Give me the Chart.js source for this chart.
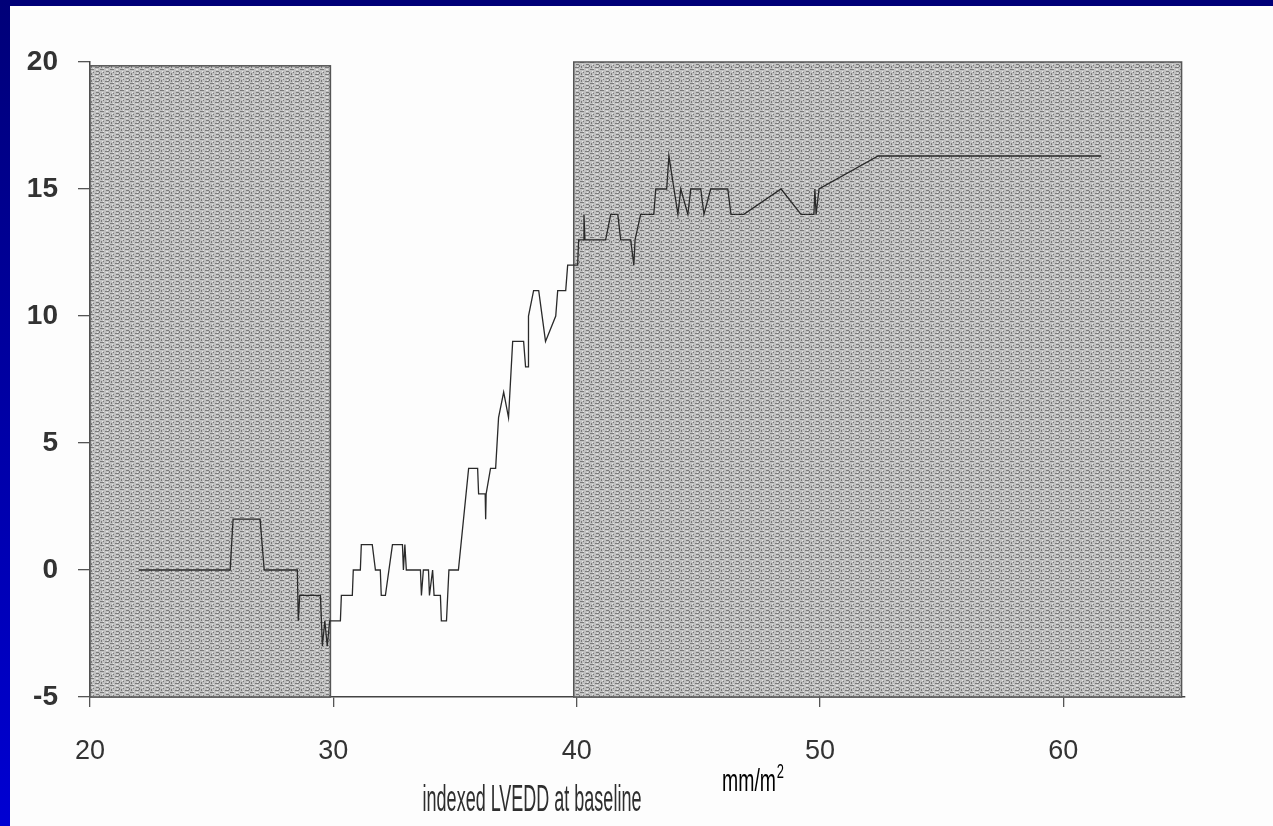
<!DOCTYPE html>
<html>
<head>
<meta charset="utf-8">
<script src="https://cdn.jsdelivr.net/npm/chart.js@4"></script>
<style>
  html, body { margin: 0; padding: 0; }
  body { width: 1273px; height: 826px; overflow: hidden; background: #fdfdfd; position: relative; }
  #topbar { position: absolute; left: 0; top: 0; width: 1273px; height: 6px; background: #000078; }
  #leftbar { position: absolute; left: 0; top: 0; width: 10px; height: 826px; background: linear-gradient(#000078, #0000d2); }
  #wrap { position: absolute; left: 10px; top: 6px; width: 1263px; height: 820px; }
</style>
</head>
<body>
<div id="topbar"></div>
<div id="leftbar"></div>
<div id="wrap"><canvas id="lveddChart" width="1263" height="820"></canvas></div>
<script>
// tick labels
const xTicks = [20, 30, 40, 50, 60];
const yTicks = [-5, 0, 5, 10, 15, 20];

// shaded zones (x from, x to, top)
const zoneStart = [20, 39.88];
const zoneEnd = [29.88, 64.86];
const zoneTop = [19.85, 20];

// the curve: indexed LVEDD (mm/m2) vs change
const lvedd = [
  22.0, 25.76, 25.88, 26.99, 27.16, 28.52, 28.56, 28.62, 29.47, 29.55,
  29.65, 29.75, 29.85, 30.29, 30.33, 30.78, 30.82, 31.11, 31.15, 31.60,
  31.73, 31.93, 31.97, 32.14, 32.43, 32.84, 32.88, 32.94, 33.00, 33.58,
  33.62, 33.70, 33.91, 33.95, 34.08, 34.14, 34.40, 34.44, 34.65, 34.75,
  35.14, 35.56, 35.93, 35.97, 36.24, 36.26, 36.28, 36.46, 36.67, 36.79,
  37.00, 37.20, 37.37, 37.82, 37.90, 38.00, 38.02, 38.23, 38.44, 38.72,
  39.14, 39.22, 39.55, 39.63, 40.04, 40.08, 40.28, 40.30, 40.34, 41.19,
  41.40, 41.69, 41.81, 42.22, 42.35, 42.40, 42.63, 43.17, 43.25, 43.70,
  43.79, 44.16, 44.28, 44.57, 44.69, 45.10, 45.23, 45.51, 46.21, 46.34,
  46.87, 48.40, 49.22, 49.75, 49.79, 49.84, 49.96, 52.39, 61.56
];
const change = [
  0, 0, 2, 2, 0, 0, -2, -1, -1, -3,
  -2, -3, -2, -2, -1, -1, 0, 0, 1, 1,
  0, 0, -1, -1, 1, 1, 0, 1, 0, 0,
  -1, 0, 0, -1, 0, -1, -1, -2, -2, 0,
  0, 4, 4, 3, 3, 2, 3, 4, 4, 6,
  7, 6, 9, 9, 8, 8, 10, 11, 11, 9,
  10, 11, 11, 12, 12, 13, 13, 14, 13, 13,
  14, 14, 13, 13, 12, 13, 14, 14, 15, 15,
  16.3, 14, 15, 14, 15, 15, 14, 15, 15, 14,
  14, 15, 14, 14, 15, 14, 15, 16.3, 16.3
];

// stippled grey fill like the scanned original
function makePattern(ctx) {
  const tile = document.createElement('canvas');
  tile.width = 10;
  tile.height = 7;
  const t = tile.getContext('2d');
  t.fillStyle = '#c0c0c0';
  t.fillRect(0, 0, 10, 7);
  t.fillStyle = '#7a7a7a';
  t.fillRect(0, 0, 4, 1);
  t.fillRect(6, 2, 3, 1);
  t.fillRect(1, 4, 1, 2);
  t.fillRect(5, 5, 4, 1);
  t.fillRect(9, 3, 1, 2);
  t.fillRect(3, 3, 1, 1);
  t.fillStyle = '#e6e6e6';
  t.fillRect(2, 2, 1, 1);
  t.fillRect(6, 0, 2, 1);
  t.fillRect(3, 6, 1, 1);
  t.fillRect(7, 4, 1, 1);
  return ctx.createPattern(tile, 'repeat');
}

const shadePlugin = {
  id: 'shade',
  beforeDatasetsDraw(chart) {
    const { ctx, scales: { x, y } } = chart;
    const pattern = makePattern(ctx);
    ctx.save();
    zoneStart.forEach((start, i) => {
      const l = x.getPixelForValue(start);
      const r = x.getPixelForValue(zoneEnd[i]);
      const t = y.getPixelForValue(zoneTop[i]);
      const b = y.getPixelForValue(-5);
      ctx.fillStyle = pattern;
      ctx.fillRect(l, t, r - l, b - t);
      ctx.strokeStyle = '#555';
      ctx.lineWidth = 1.5;
      ctx.strokeRect(l, t, r - l, b - t);
    });
    ctx.restore();
  }
};

// axis title and units (narrow, tall lettering as in the scan)
const titlePlugin = {
  id: 'xTitle',
  afterDraw(chart) {
    const ctx = chart.ctx;
    ctx.save();
    ctx.fillStyle = '#2e2e2e';
    ctx.textAlign = 'center';
    ctx.textBaseline = 'alphabetic';
    ctx.translate(522, 805);
    ctx.scale(0.6, 1.2);
    ctx.font = '30px "Liberation Sans", Arial, sans-serif';
    ctx.fillText('indexed LVEDD at baseline', 0, 0);
    ctx.restore();

    ctx.save();
    ctx.fillStyle = '#000';
    ctx.textAlign = 'left';
    ctx.translate(712, 785);
    ctx.scale(0.72, 1.15);
    ctx.font = '27px "Liberation Sans", Arial, sans-serif';
    ctx.fillText('mm/m', 0, 0);
    const w = ctx.measureText('mm/m').width;
    ctx.font = '18px "Liberation Sans", Arial, sans-serif';
    ctx.fillText('2', w + 1, -11);
    ctx.restore();
  }
};

const canvas = document.getElementById('lveddChart');
new Chart(canvas.getContext('2d'), {
  type: 'scatter',
  data: {
    datasets: [{
      data: lvedd.map((v, i) => ({ x: v, y: change[i] })),
      showLine: true,
      borderColor: '#2a2a2a',
      borderWidth: 1.3,
      pointRadius: 0,
      tension: 0
    }]
  },
  options: {
    responsive: false,
    animation: false,
    layout: { padding: { top: 56, right: 88, left: 0, bottom: 0 } },
    plugins: {
      legend: { display: false },
      tooltip: { enabled: false }
    },
    scales: {
      x: {
        type: 'linear',
        min: 20,
        max: 65,
        afterBuildTicks: s => { s.ticks = xTicks.map(v => ({ value: v })); },
        afterFit: s => { s.height = 129; },
        border: { color: '#444', width: 1.5 },
        grid: { drawOnChartArea: false, tickLength: 10, color: '#555', lineWidth: 1.3 },
        ticks: {
          padding: 28,
          color: '#333',
          font: { family: '"Liberation Sans", Arial, sans-serif', size: 27 }
        }
      },
      y: {
        min: -5,
        max: 20,
        afterBuildTicks: s => { s.ticks = yTicks.map(v => ({ value: v })); },
        afterFit: s => { s.width = 80; },
        border: { color: '#444', width: 1.5 },
        grid: { drawOnChartArea: false, tickLength: 12, color: '#555', lineWidth: 1.3 },
        ticks: {
          padding: 20,
          color: '#333',
          font: { family: '"Liberation Sans", Arial, sans-serif', size: 28, weight: 'bold' }
        }
      }
    }
  },
  plugins: [shadePlugin, titlePlugin]
});
</script>
</body>
</html>
